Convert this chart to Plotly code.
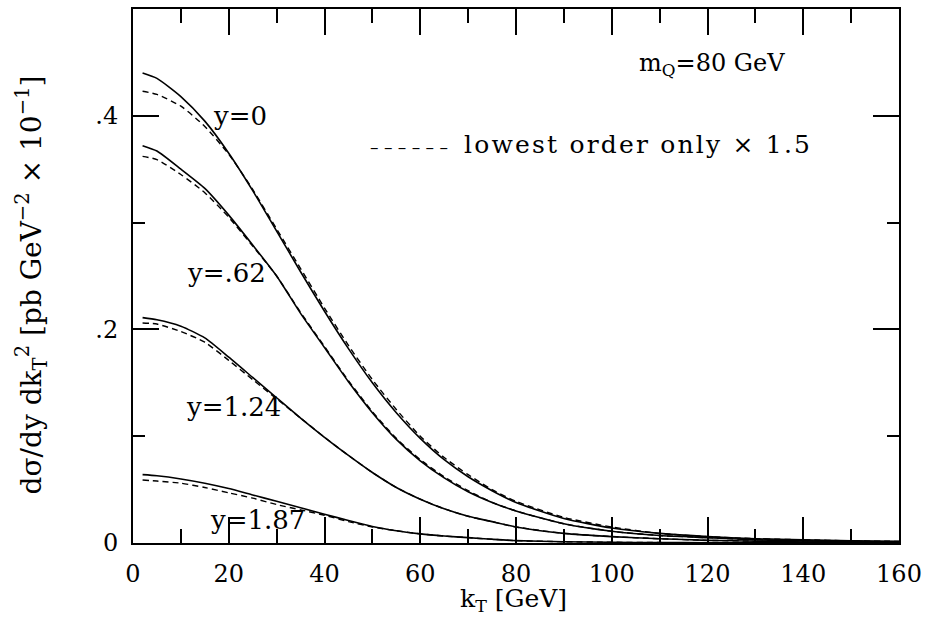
import plotly.graph_objects as go

# transverse momentum grid [GeV]
kt = [2, 5, 10, 15, 20, 25, 30, 35, 40, 45, 50, 55, 60, 65, 70, 75, 80, 90, 100, 110, 120, 130, 140, 150, 160]

# full result (solid) and lowest order x 1.5 (dashed), units pb GeV^-2 x 10^-1
y0_full = [0.440, 0.435, 0.418, 0.395, 0.365, 0.330, 0.292, 0.254, 0.217, 0.182, 0.150, 0.122, 0.098, 0.078, 0.062, 0.049, 0.038, 0.023, 0.014, 0.009, 0.006, 0.004, 0.003, 0.002, 0.0015]
y0_lo = [0.423, 0.420, 0.409, 0.390, 0.364, 0.331, 0.294, 0.257, 0.220, 0.185, 0.153, 0.125, 0.100, 0.080, 0.064, 0.050, 0.039, 0.024, 0.015, 0.009, 0.006, 0.004, 0.003, 0.002, 0.0015]

y062_full = [0.372, 0.367, 0.350, 0.332, 0.307, 0.279, 0.250, 0.215, 0.183, 0.151, 0.122, 0.097, 0.077, 0.061, 0.048, 0.038, 0.030, 0.018, 0.011, 0.007, 0.005, 0.003, 0.002, 0.0015, 0.001]
y062_lo = [0.362, 0.359, 0.345, 0.328, 0.305, 0.278, 0.250, 0.216, 0.184, 0.152, 0.123, 0.098, 0.078, 0.062, 0.049, 0.038, 0.030, 0.018, 0.011, 0.007, 0.005, 0.003, 0.002, 0.0015, 0.001]

y124_full = [0.211, 0.209, 0.203, 0.192, 0.174, 0.155, 0.136, 0.117, 0.099, 0.082, 0.066, 0.052, 0.041, 0.032, 0.025, 0.020, 0.015, 0.009, 0.006, 0.004, 0.0025, 0.0017, 0.001, 0.0007, 0.0005]
y124_lo = [0.206, 0.205, 0.198, 0.188, 0.171, 0.153, 0.135, 0.117, 0.099, 0.082, 0.066, 0.052, 0.041, 0.032, 0.025, 0.020, 0.015, 0.009, 0.006, 0.004, 0.0025, 0.0017, 0.001, 0.0007, 0.0005]

y187_full = [0.064, 0.063, 0.060, 0.056, 0.051, 0.045, 0.039, 0.033, 0.027, 0.021, 0.0155, 0.0115, 0.0085, 0.0065, 0.005, 0.0035, 0.0022, 0.0012, 0.0007, 0.0004, 0.0003, 0.0002, 0.0001, 0.0001, 0.0]
y187_lo = [0.059, 0.058, 0.056, 0.052, 0.047, 0.042, 0.036, 0.031, 0.026, 0.020, 0.015, 0.0115, 0.0085, 0.0065, 0.005, 0.0035, 0.0022, 0.0012, 0.0007, 0.0004, 0.0003, 0.0002, 0.0001, 0.0001, 0.0]

# curve labels: text, x, y
curve_labels = ["y=0", "y=.62", "y=1.24", "y=1.87"]
label_x = [22.3, 19.6, 20.9, 25.9]
label_y = [0.400, 0.253, 0.127, 0.0215]

# axis ticks
x_tickvals = [0, 20, 40, 60, 80, 100, 120, 140, 160]
x_ticktext = ["0", "20", "40", "60", "80", "100", "120", "140", "160"]
x_minor_step = 10
y_tickvals = [0, 0.2, 0.4]
y_ticktext = ["0", ".2", ".4"]
y_minor_step = 0.1

FONT = "DejaVu Serif"

fig = go.Figure()
series = [(y0_full, y0_lo), (y062_full, y062_lo), (y124_full, y124_lo), (y187_full, y187_lo)]
for full, lo in series:
    fig.add_trace(go.Scatter(x=kt, y=full, mode="lines",
                             line=dict(color="black", width=1.6, shape="spline", smoothing=0.6),
                             showlegend=False, hoverinfo="skip"))
    fig.add_trace(go.Scatter(x=kt, y=lo, mode="lines",
                             line=dict(color="black", width=1.4, dash="6px,4px", shape="spline", smoothing=0.6),
                             showlegend=False, hoverinfo="skip"))

for t, x, y in zip(curve_labels, label_x, label_y):
    fig.add_annotation(x=x, y=y, text=t, showarrow=False, xanchor="center", yanchor="middle",
                       font=dict(family=FONT, size=26, color="black"))

fig.add_annotation(x=121, y=0.448, text="m<sub>Q</sub>=80 GeV", showarrow=False,
                   xanchor="center", yanchor="middle", font=dict(family=FONT, size=24, color="black"))
fig.add_annotation(x=49, y=0.373,
                   text="<span style='font-size:17px'>– – – – – –</span>&nbsp; "
                        "<span style='letter-spacing:2.2px'>lowest order only × 1.5</span>",
                   showarrow=False, xanchor="left", yanchor="middle",
                   font=dict(family=FONT, size=25, color="black"))

# axis titles
fig.add_annotation(xref="paper", yref="paper", x=0.497, y=-0.107, text="k<sub>T</sub> [GeV]",
                   showarrow=False, xanchor="center", yanchor="middle",
                   font=dict(family=FONT, size=25, color="black"))
fig.add_annotation(xref="paper", yref="paper", x=-0.132, y=0.484,
                   text="dσ/dy dk<sub>T</sub><sup>2</sup> [pb GeV<sup>−2</sup> × 10<sup>−1</sup>]",
                   textangle=-90, showarrow=False, xanchor="center", yanchor="middle",
                   font=dict(family=FONT, size=28, color="black"))

axis_common = dict(showgrid=False, zeroline=False, showline=True, linecolor="black", linewidth=2,
                   mirror="allticks", ticks="inside", tickcolor="black", tickwidth=2,
                   tickfont=dict(family=FONT, size=24, color="black"))

fig.update_layout(
    xaxis=dict(range=[0, 160], tickmode="array", tickvals=x_tickvals, ticktext=x_ticktext,
               ticklen=26, ticklabelstandoff=8,
               minor=dict(tick0=0, dtick=x_minor_step, ticks="inside", ticklen=14,
                          tickcolor="black", tickwidth=2),
               **axis_common),
    yaxis=dict(range=[0, 0.5], tickmode="array", tickvals=y_tickvals, ticktext=y_ticktext,
               ticklen=26, ticklabelstandoff=8,
               minor=dict(tick0=0, dtick=y_minor_step, ticks="inside", ticklen=12,
                          tickcolor="black", tickwidth=2),
               **axis_common),
    width=929, height=619, margin=dict(l=133, r=29, t=7, b=76),
    plot_bgcolor="white", paper_bgcolor="white", showlegend=False,
)

fig.write_html("out.html", config={"displayModeBar": False},
               post_script="document.body.style.margin='0';")
